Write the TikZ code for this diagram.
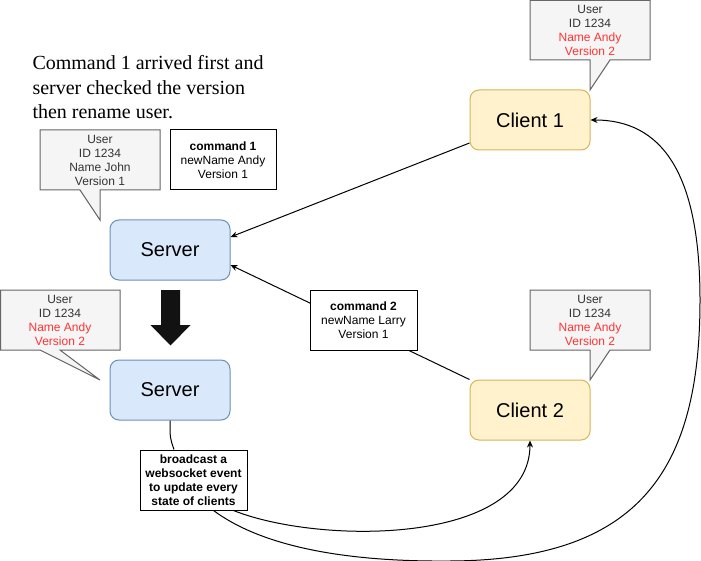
\documentclass[tikz,border=0pt]{standalone}
\usepackage{fontspec}
\setmainfont{Liberation Serif}
\setsansfont{Liberation Sans}
\usepackage{xcolor}
\usepackage{tikz}
\usetikzlibrary{arrows.meta,positioning,calc}
\definecolor{notefill}{HTML}{F5F5F5}
\definecolor{noteline}{HTML}{666666}
\definecolor{notetext}{HTML}{333333}
\definecolor{changed}{HTML}{FF3333}
\definecolor{srvfill}{HTML}{DAE8FC}
\definecolor{srvline}{HTML}{6C8EBF}
\definecolor{cltfill}{HTML}{FFF2CC}
\definecolor{cltline}{HTML}{D6B656}
\newcommand{\upd}[1]{\textcolor{changed}{#1}}

\begin{document}
\begin{tikzpicture}[x=1pt, y=-1pt, line width=1pt,
  font=\sffamily\fontsize{12}{14}\selectfont,
  srv/.style={draw=srvline, fill=srvfill, rounded corners=9pt, minimum width=120pt, minimum height=60pt, font=\sffamily\fontsize{20}{24}\selectfont},
  clt/.style={draw=cltline, fill=cltfill, rounded corners=9pt, minimum width=120pt, minimum height=60pt, font=\sffamily\fontsize{20}{24}\selectfont},
  cmd/.style={draw, fill=white, align=center, minimum width=106pt, minimum height=60pt, inner sep=0pt},
  note/.style={draw=noteline, fill=notefill},
  notetxt/.style={align=center, text=notetext, inner sep=0pt},
  arr/.style={-{Stealth[length=7pt,width=6pt]}}]
  \useasboundingbox (0,0) rectangle (701,561);
  \node[anchor=north west, align=left, inner sep=0pt, font=\rmfamily\fontsize{20}{24.5}\selectfont] (title) at (32,55)
    {Command 1 arrived first and\\server checked the version\\then rename user.};
  \draw[note] (40,130) -- (160,130) -- (160,190) -- (100,190) -- (100,220) -- (80,190) -- (40,190) -- cycle;
  \node[notetxt] (userA) at (100,160) {User\\ID 1234\\Name John\\Version 1};
  \draw[note] (0.5,290) -- (120,290) -- (120,350) -- (60,350) -- (100,380) -- (40,350) -- (0.5,350) -- cycle;
  \node[notetxt] (userB) at (60,320) {User\\ID 1234\\\upd{Name Andy}\\\upd{Version 2}};
  \draw[note] (530,0.5) -- (650,0.5) -- (650,60) -- (610,60) -- (590,90) -- (590,60) -- (530,60) -- cycle;
  \node[notetxt] (userC) at (590,30) {User\\ID 1234\\\upd{Name Andy}\\\upd{Version 2}};
  \draw[note] (530,290) -- (650,290) -- (650,350) -- (610,350) -- (590,380) -- (590,350) -- (530,350) -- cycle;
  \node[notetxt] (userD) at (590,320) {User\\ID 1234\\\upd{Name Andy}\\\upd{Version 2}};
  \node[srv] (srvA) at (170,250) {Server};
  \node[srv] (srvB) at (170,390) {Server};
  \node[clt] (cltA) at (530,120) {Client 1};
  \node[clt] (cltB) at (530,410) {Client 2};
  \node[cmd] (cmdA) at (223,160) {\textbf{command 1}\\newName Andy\\Version 1};
  \fill[black!93] (161,290) -- (180,290) -- (180,325) -- (190.5,325) -- (170.5,345.5) -- (150.5,325) -- (161,325) -- cycle;
  \draw[arr] ([yshift=-23pt]cltA.west) -- ([yshift=13pt]srvA.east);
  \draw[arr] (cltB.north west) -- ([yshift=-15pt]srvA.east);
  \node[cmd, minimum width=107pt] (cmdB) at (363.5,320) {\textbf{command 2}\\newName Larry\\Version 1};
  \node[cmd, minimum width=107pt, font=\bfseries\sffamily\fontsize{12}{14}\selectfont] (bcast) at (193.5,480)
    {broadcast a\\websocket event\\to update every\\state of clients};
  \draw (srvB.south) .. controls (170,438) .. ([xshift=-19.5pt]bcast.north);
  \draw[arr] ([xshift=-14pt]bcast.south east) .. controls (320,545) and (530,545) .. (cltB.south);
  \draw[arr] ([xshift=-34pt]bcast.south east) .. controls (260,545) and (340,562) .. (450,561)
    .. controls (640,560) and (700,470) .. (700,300) .. controls (700,170) and (660,120) .. (cltA.east);
\end{tikzpicture}
\end{document}
